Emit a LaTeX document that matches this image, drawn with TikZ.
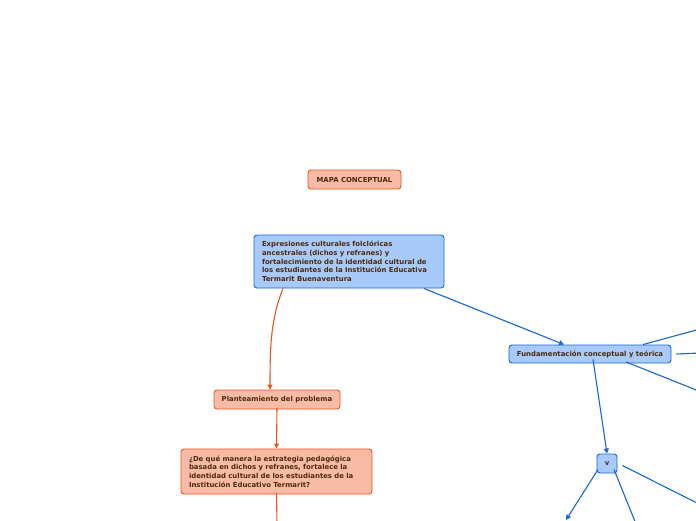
\documentclass[tikz,border=0pt]{standalone}
\usepackage{fontspec}
\setmainfont{DejaVu Sans}
\usetikzlibrary{arrows.meta, positioning}

\definecolor{salmon}{HTML}{F9BBA6}
\definecolor{orangeline}{HTML}{EC5522}
\definecolor{skyfill}{HTML}{A8CAFA}
\definecolor{blueline}{HTML}{1767D6}
\definecolor{inkbrown}{HTML}{4E2A0C}

\begin{document}
\begin{tikzpicture}[x=1pt, y=-1pt,
  obox/.style={draw=orangeline, fill=salmon, rounded corners=3pt, line width=0.9pt,
    text=inkbrown, font=\fontsize{6.9}{8.7}\selectfont\bfseries, inner sep=0pt},
  bbox/.style={draw=blueline, fill=skyfill, rounded corners=3pt, line width=0.9pt,
    text=inkbrown, font=\fontsize{6.9}{8.7}\selectfont\bfseries, inner sep=0pt},
  wide/.style={text width=175pt, inner xsep=8pt, align=left},
  oline/.style={draw=orangeline, line width=1.1pt},
  bline/.style={draw=blueline, line width=1.1pt},
  tip/.style={-{Triangle[length=5pt, width=5pt]}}]
  \useasboundingbox (0,0) rectangle (696,520);
  \fill[white] (0,0) rectangle (696,520);

  % nodes
  \node[obox, minimum width=93pt, minimum height=19pt] (title) at (354.5,179.5) {MAPA CONCEPTUAL};
  \node[bbox, wide, text width=174pt, minimum height=53pt] (main) at (349,261.5)
    {Expresiones culturales folclóricas\\ancestrales (dichos y refranes) y\\fortalecimiento de la identidad cultural de\\los estudiantes de la Institución Educativa\\Termarit Buenaventura};
  \node[bbox, minimum width=162pt, minimum height=18pt] (fund) at (590,354) {Fundamentación conceptual y teórica};
  \node[obox, minimum width=126pt, minimum height=19pt] (plant) at (277,399.5) {Planteamiento del problema};
  \node[obox, wide, minimum height=45pt] (quest) at (276.5,471.5)
    {¿De qué manera la estrategia pedagógica\\basada en dichos y refranes, fortalece la\\identidad cultural de los estudiantes de la\\Institución Educativo Termarit?};
  \node[bbox, minimum width=20pt, minimum height=19pt] (v) at (607,463.5) {v};

  % free ends
  \coordinate (fr1) at (700,329);
  \coordinate (fr2) at (700,353);
  \coordinate (fr3) at (700,391.5);
  \coordinate (qd) at (277,524);
  \coordinate (vd1) at (566,520);
  \coordinate (vd2) at (636,524);
  \coordinate (vr) at (700,504.5);

  % connectors
  \draw[oline, tip] ([xshift=-66pt]main.south) .. controls +(-12,30) and +(0,-45) .. ([xshift=-7pt]plant.north);
  \draw[bline, tip] ([xshift=75pt]main.south) -- ([xshift=-26pt]fund.north);
  \draw[oline, tip] ([yshift=1.5pt]plant.south) -- (quest.north);
  \draw[oline] ([yshift=1.5pt]quest.south) -- (qd);
  \draw[bline] ([xshift=53pt]fund.north) -- (fr1);
  \draw[bline] ([xshift=5pt]fund.east) -- (fr2);
  \draw[bline] ([xshift=36pt, yshift=1.5pt]fund.south) -- (fr3);
  \draw[bline, tip] ([xshift=3pt, yshift=4pt]fund.south) -- (v.north);
  \draw[bline, tip] ([xshift=-9pt, yshift=4pt]v.south) -- (vd1);
  \draw[bline] ([xshift=7pt, yshift=4pt]v.south) -- (vd2);
  \draw[bline] ([xshift=5pt, yshift=-2pt]v.east) -- (vr);
\end{tikzpicture}
\end{document}
